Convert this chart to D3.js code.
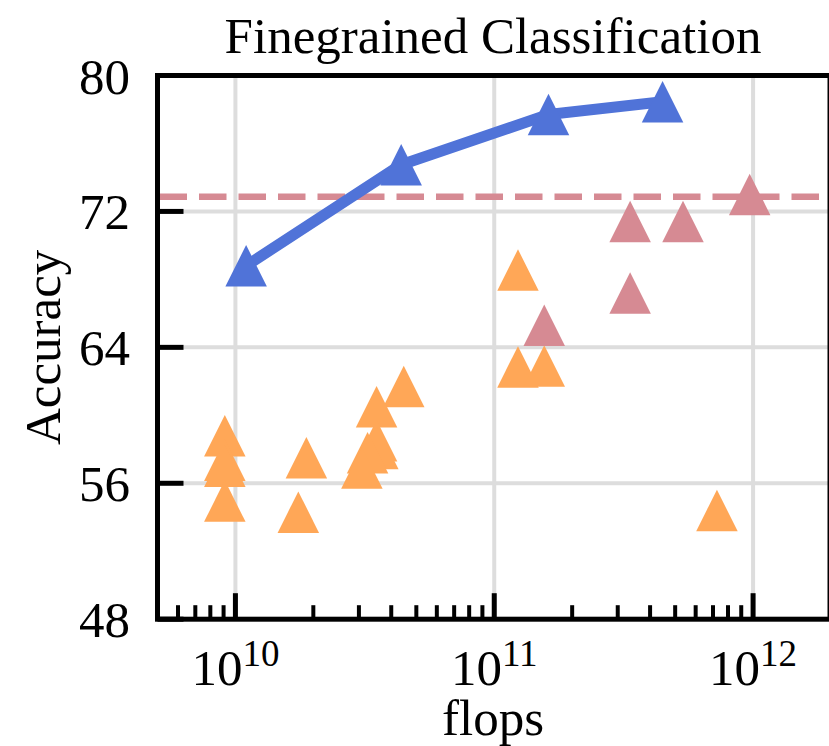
<!DOCTYPE html>
<html>
<head>
<meta charset="utf-8">
<script src="https://cdn.jsdelivr.net/npm/d3@7"></script>
<style>
  html, body { margin: 0; padding: 0; background: #fff; }
  svg { display: block; }
  text { font-family: "Liberation Serif", "Times New Roman", "DejaVu Serif", serif; fill: #000; }
</style>
</head>
<body>
<svg id="chart" width="829" height="746"></svg>
<script>
// Scaled model family (flops, accuracy)
const scaledFlops = [1.1e10, 4.37e10, 1.62e11, 4.47e11];
const scaledAcc   = [68.8, 74.75, 77.7, 78.45];

// Large baseline models
const largeFlops = [9.7e11, 3.35e11, 5.36e11, 3.35e11, 1.56e11];
const largeAcc   = [73.0, 71.4, 71.4, 67.2, 65.3];

// Small baseline models
const smallFlops = [9.1e9, 9.1e9, 9.1e9, 9.1e9,
                    1.88e10, 1.75e10,
                    4.47e10, 3.51e10, 3.51e10, 3.55e10, 3.24e10, 3.08e10,
                    1.235e11, 1.235e11, 1.56e11,
                    7.25e11];
const smallAcc   = [58.8, 57.35, 57.0, 54.95,
                    57.5, 54.3,
                    61.7, 60.5, 58.5, 58.05, 57.8, 56.9,
                    68.55, 62.85, 62.9,
                    54.4];

// Reference accuracy level (dashed line)
const referenceAcc = 72.87;

// Axis ticks
const yTicks = [48, 56, 64, 72, 80];
const xMajorTicks = [1e10, 1e11, 1e12];
const xTickExponents = ["10", "11", "12"];

const colors = { scaled: "#5073d8", large: "#d68a93", small: "#ffa757" };

const svg = d3.select("#chart");
const plotLeft = 157.5, plotRight = 831, plotTop = 75.5, plotBottom = 619.2;

const x = d3.scaleLog().domain([5e9, 2e12]).range([plotLeft, plotRight]);
const y = d3.scaleLinear().domain([48, 80]).range([plotBottom, plotTop]);

// Minor ticks: 2..9 times each decade, inside the domain
const xMinorTicks = [];
[1e9, 1e10, 1e11, 1e12].forEach(d => {
  for (let k = 2; k <= 9; k++) {
    const v = k * d;
    if (v > 5e9 && v < 2e12) xMinorTicks.push(v);
  }
});

svg.append("rect").attr("width", 829).attr("height", 746).attr("fill", "#fff");

// Grid
const grid = svg.append("g").attr("stroke", "#dddddd").attr("stroke-width", 4);
grid.selectAll("line.gx").data(xMajorTicks).join("line")
  .attr("x1", d => x(d)).attr("x2", d => x(d))
  .attr("y1", plotTop).attr("y2", plotBottom);
grid.selectAll("line.gy").data(yTicks.filter(d => d > 48 && d < 80)).join("line")
  .attr("x1", plotLeft).attr("x2", plotRight)
  .attr("y1", d => y(d)).attr("y2", d => y(d));

// Dashed reference line
svg.append("line")
  .attr("x1", plotLeft + 2).attr("x2", plotRight)
  .attr("y1", y(referenceAcc)).attr("y2", y(referenceAcc))
  .attr("stroke", colors.large).attr("stroke-width", 6.5)
  .attr("stroke-dasharray", "27.5 12");

// Triangle marker
const s = 20.75;
const tri = `M0,${-s}L${-s},${s}L${s},${s}Z`;

function drawMarkers(xs, ys, color) {
  svg.append("g").selectAll("path")
    .data(xs.map((v, i) => [v, ys[i]]))
    .join("path")
    .attr("d", tri)
    .attr("transform", d => `translate(${x(d[0])},${y(d[1])})`)
    .attr("fill", color);
}

drawMarkers(smallFlops, smallAcc, colors.small);
drawMarkers(largeFlops, largeAcc, colors.large);

const scaledPts = scaledFlops.map((v, i) => [v, scaledAcc[i]]);
svg.append("path")
  .datum(scaledPts)
  .attr("d", d3.line().x(d => x(d[0])).y(d => y(d[1])))
  .attr("fill", "none").attr("stroke", colors.scaled)
  .attr("stroke-width", 11).attr("stroke-linejoin", "round");
drawMarkers(scaledFlops, scaledAcc, colors.scaled);

// Ticks (inward)
const ticks = svg.append("g").attr("stroke", "#000");
ticks.selectAll("line.ymaj").data(yTicks).join("line")
  .attr("x1", plotLeft).attr("x2", plotLeft + 26)
  .attr("y1", d => y(d)).attr("y2", d => y(d))
  .attr("stroke-width", 5);
ticks.selectAll("line.xmaj").data(xMajorTicks).join("line")
  .attr("x1", d => x(d)).attr("x2", d => x(d))
  .attr("y1", plotBottom).attr("y2", plotBottom - 26)
  .attr("stroke-width", 5);
ticks.selectAll("line.xmin").data(xMinorTicks).join("line")
  .attr("x1", d => x(d)).attr("x2", d => x(d))
  .attr("y1", plotBottom).attr("y2", plotBottom - 14)
  .attr("stroke-width", 4);

// Spines
svg.append("rect")
  .attr("x", plotLeft).attr("y", plotTop)
  .attr("width", plotRight - 1 - plotLeft).attr("height", plotBottom - plotTop)
  .attr("fill", "none").attr("stroke", "#000").attr("stroke-width", 5);

// Tick labels
svg.append("g").selectAll("text").data(yTicks).join("text")
  .attr("x", 130).attr("y", d => y(d) + 18)
  .attr("text-anchor", "end")
  .attr("font-size", 51)
  .text(d => d);

const xl = svg.append("g").selectAll("text").data(xMajorTicks).join("text")
  .attr("x", d => x(d)).attr("y", 685)
  .attr("text-anchor", "middle")
  .attr("font-size", 51);
xl.append("tspan").text("10");
xl.append("tspan").attr("dy", -19).attr("font-size", 37)
  .text((d, i) => xTickExponents[i]);

// Axis labels and title
svg.append("text").attr("x", 493).attr("y", 735)
  .attr("text-anchor", "middle").attr("font-size", 51).text("flops");
svg.append("text")
  .attr("transform", `translate(60,${(plotTop + plotBottom) / 2}) rotate(-90)`)
  .attr("text-anchor", "middle").attr("font-size", 51).text("Accuracy");
svg.append("text").attr("x", 493).attr("y", 53)
  .attr("text-anchor", "middle").attr("font-size", 51).text("Finegrained Classification");
</script>
</body>
</html>
